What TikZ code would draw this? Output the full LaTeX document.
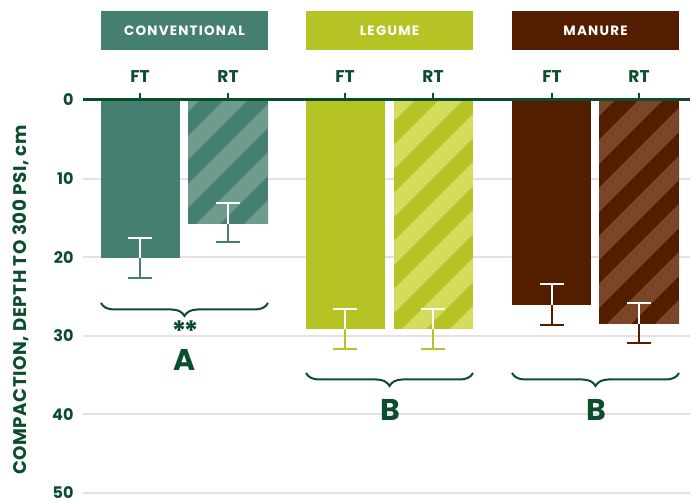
\documentclass[tikz,border=0pt]{standalone}
\usepackage{fontspec}
\setmainfont{Poppins}
\newfontfamily\headfont[LetterSpace=9]{Poppins}
\newfontfamily\titlefont[LetterSpace=3]{Poppins}
\usepackage{xcolor}
\usetikzlibrary{decorations.pathreplacing, positioning}

\definecolor{convcol}{HTML}{457F72}
\definecolor{convlight}{HTML}{6F9B8F}
\definecolor{legcol}{HTML}{B5C424}
\definecolor{leglight}{HTML}{D4DC5E}
\definecolor{mancol}{HTML}{531E00}
\definecolor{manlight}{HTML}{7A4528}
\definecolor{axisgreen}{HTML}{0C4D2E}
\definecolor{gridgrey}{HTML}{E6E1DC}

% hatched bar: x1, x2, bottom, dark, light
\newcommand{\hatchbar}[5]{%
  \begin{scope}
    \clip (#1,101) rectangle (#2,#3);
    \fill[#4] (#1,101) rectangle (#2,#3);
    \foreach \s in {-288,-240,...,144}
      \draw[#5, line width=17pt] (#1+\s,#3+20) -- ++(300,-300);
  \end{scope}}

% error bar: x, top, bar end, bottom, colour
\newcommand{\errbar}[5]{%
  \draw[white, line width=2pt] (#1-12,#2) -- (#1+12,#2) (#1,#2) -- (#1,#3);
  \draw[#5, line width=2pt] (#1,#3) -- (#1,#4) (#1-12,#4) -- (#1+12,#4);}

\begin{document}
\begin{tikzpicture}[x=1pt, y=-1pt,
    header/.style = {fill=#1, text=white, inner sep=0pt,
        minimum width=167pt, minimum height=39pt,
        font=\headfont\bfseries\fontsize{13.5}{13.5}\selectfont},
    treat/.style = {text=axisgreen, font=\bfseries\fontsize{17}{17}\selectfont},
    ticklab/.style = {text=axisgreen, anchor=east, font=\bfseries\fontsize{16}{16}\selectfont},
    letter/.style = {text=axisgreen, inner sep=0pt, font=\bfseries\fontsize{30}{30}\selectfont},
    grp/.style = {axisgreen, line width=2pt, decorate,
        decoration={brace, mirror, amplitude=13pt}}]

    \useasboundingbox (0,0) rectangle (697,502);

    % Grid
    \foreach \d/\yy in {10/178.6, 20/257.2, 30/335.8, 40/414.4, 50/493} {
        \draw[gridgrey, line width=2pt] (83,\yy) -- (690,\yy);
        \node[ticklab] (t\d) at (77,\yy) {\d};
    }
    \node[ticklab] (t0) at (77,100) {0};

    % Axis title
    \node[rotate=90, text=axisgreen, font=\titlefont\bfseries\fontsize{18.3}{18.3}\selectfont]
        (ytitle) at (21,300) {COMPACTION, DEPTH TO 300 PSI, cm};

    % Headers
    \node[header=convcol] (conv) at (184.5,30.5) {CONVENTIONAL};
    \node[header=legcol] (leg) at (389.5,30.5) {LEGUME};
    \node[header=mancol] (man) at (595.5,30.5) {MANURE};

    % Bars
    \fill[convcol] (101,101) rectangle (180,258);
    \hatchbar{188}{268}{224}{convcol}{convlight}
    \fill[legcol] (306,101) rectangle (385,329);
    \hatchbar{394}{473}{329}{legcol}{leglight}
    \fill[mancol] (512,101) rectangle (591,305);
    \hatchbar{599}{679}{324}{mancol}{manlight}

    % Error bars
    \errbar{140}{238}{258}{278}{convcol}
    \errbar{228}{203}{224}{242}{convcol}
    \errbar{345}{309}{329}{349}{legcol}
    \errbar{433}{309}{329}{349}{legcol}
    \errbar{552}{284}{305}{325}{mancol}
    \errbar{639}{303}{324}{343}{mancol}

    % Zero line and ticks
    \draw[axisgreen, line width=3pt] (83,100) -- (690,100);
    \foreach \x/\lab [count=\i] in {140/FT, 228/RT, 345/FT, 433/RT, 552/FT, 639/RT} {
        \draw[axisgreen, line width=1.5pt] (\x,93) -- (\x,100);
        \node[treat] (tr\i) at (\x,77) {\lab};
    }

    % Groups
    \draw[grp] (101,303) -- (268,303);
    \draw[grp] (306,373) -- (473,373);
    \draw[grp] (512,373) -- (679,373);
    \node[text=axisgreen, inner sep=0pt, font=\bfseries\fontsize{28}{28}\selectfont] (stars) at (185,331) {*\kern-3pt*};
    \node[letter] (ga) at (185,360) {A};
    \node[letter] (gb) at (390,410) {B};
    \node[letter] (gc) at (596,410) {B};

\end{tikzpicture}
\end{document}
